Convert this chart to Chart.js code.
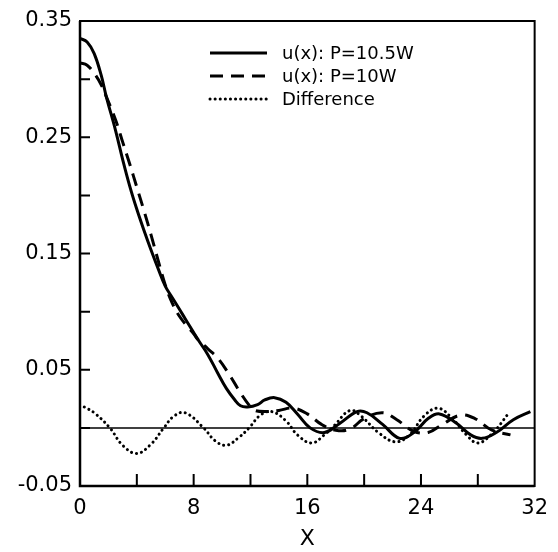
<!DOCTYPE html>
<html>
<head>
<meta charset="utf-8">
<script src="https://cdn.jsdelivr.net/npm/chart.js@4.4.0/dist/chart.umd.min.js"></script>
<style>
  html, body { margin: 0; padding: 0; background: #fff; }
  #wrap { width: 558px; height: 552px; }
</style>
</head>
<body>
<div id="wrap"><canvas id="chart"></canvas></div>
<script>
// u(x) for P = 10.5W (solid)
const solidX = [0, 0.5, 1, 1.5, 1.85, 2.5, 3, 3.5, 4, 4.5, 5, 5.5, 6, 6.5, 7, 7.5, 8, 8.3, 9, 9.7, 10.3, 10.9, 11.3, 11.8, 12.5, 13, 13.7, 14.5, 15.3, 16.2, 17.2, 18.3, 19.5, 20.2, 21.3, 22.5, 23.5, 24.5, 25.3, 26.5, 27.5, 28.3, 29.3, 30.5, 31.7];
const solidY = [0.335, 0.332, 0.322, 0.303, 0.285, 0.256, 0.231, 0.208, 0.188, 0.17, 0.153, 0.137, 0.122, 0.112, 0.102, 0.092, 0.082, 0.076, 0.063, 0.047, 0.034, 0.024, 0.019, 0.018, 0.02, 0.024, 0.026, 0.022, 0.012, 0.0, -0.004, 0.004, 0.014, 0.013, 0.003, -0.009, -0.004, 0.008, 0.012, 0.004, -0.006, -0.009, -0.004, 0.007, 0.014];

// u(x) for P = 10W (dashed)
const dashedX = [0, 0.5, 1, 1.5, 1.85, 2.5, 3, 3.5, 4, 4.5, 5, 5.5, 6, 6.5, 7, 7.5, 8, 8.3, 9, 9.7, 10.5, 11.3, 12, 12.3, 13, 14, 15, 16, 17, 18, 19, 20, 21.3, 22.3, 23.5, 24.5, 25.5, 26.8, 27.8, 29, 30.3];
const dashedY = [0.314, 0.312, 0.305, 0.295, 0.285, 0.265, 0.246, 0.227, 0.207, 0.187, 0.166, 0.144, 0.123, 0.107, 0.096, 0.088, 0.081, 0.076, 0.068, 0.06, 0.046, 0.03, 0.018, 0.015, 0.014, 0.015, 0.017, 0.012, 0.003, -0.002, -0.001, 0.008, 0.013, 0.007, -0.003, -0.004, 0.003, 0.011, 0.008, -0.002, -0.006];

// Difference (dotted)
const diffX = [0.3, 1, 2.1, 3, 4, 5, 5.9, 6.6, 7.4, 8.7, 9.5, 10.3, 11.2, 11.9, 12.7, 13.5, 14.5, 15.3, 16.3, 17.2, 17.9, 19, 19.8, 21, 22.2, 23.2, 24.2, 25.2, 26.2, 27.2, 28, 29, 30.2];
const diffY = [0.018, 0.013, 0.0, -0.015, -0.022, -0.014, 0.0, 0.01, 0.013, 0.0, -0.011, -0.015, -0.008, 0.0, 0.011, 0.014, 0.006, -0.006, -0.013, -0.006, 0.002, 0.015, 0.01, -0.004, -0.012, -0.006, 0.01, 0.017, 0.008, -0.006, -0.013, -0.005, 0.013];

const legendLabels = ["u(x): P=10.5W", "u(x): P=10W", "Difference"];
const xLabelEvery = 8;

const toPoints = (xs, ys) => xs.map((x, i) => ({ x: x, y: ys[i] }));

const black = "#000";
const fontFamily = "'DejaVu Sans', sans-serif";

const styles = [
  { borderDash: [], borderWidth: 3, borderCapStyle: "butt" },
  { borderDash: [13, 8], borderWidth: 3, borderCapStyle: "butt" },
  { borderDash: [0.1, 5], borderWidth: 3, borderCapStyle: "round" },
];

// zero line, inward ticks, frame and legend
const framePlugin = {
  id: "frame",
  beforeDatasetsDraw(chart) {
    const { ctx, chartArea: a, scales } = chart;
    const y0 = scales.y.getPixelForValue(0);
    ctx.save();
    ctx.strokeStyle = black;
    ctx.lineWidth = 1.5;
    ctx.beginPath();
    ctx.moveTo(a.left, y0);
    ctx.lineTo(a.right, y0);
    ctx.stroke();
    ctx.restore();
  },
  afterDraw(chart) {
    const { ctx, chartArea: a, scales } = chart;
    ctx.save();
    ctx.strokeStyle = black;
    ctx.lineWidth = 2;
    ctx.strokeRect(a.left, a.top, a.right - a.left, a.bottom - a.top);
    ctx.lineWidth = 2.5;
    ctx.beginPath();
    ctx.moveTo(a.left, a.top);
    ctx.lineTo(a.left, a.bottom);
    ctx.lineTo(a.right, a.bottom);
    ctx.stroke();

    // ticks pointing inward
    ctx.lineWidth = 2;
    ctx.beginPath();
    scales.y.ticks.forEach((t) => {
      const py = scales.y.getPixelForValue(t.value);
      if (py <= a.top + 1 || py >= a.bottom - 1) return;
      ctx.moveTo(a.left, py);
      ctx.lineTo(a.left + 10, py);
    });
    scales.x.ticks.forEach((t) => {
      const px = scales.x.getPixelForValue(t.value);
      if (px <= a.left + 1 || px >= a.right - 1) return;
      ctx.moveTo(px, a.bottom);
      ctx.lineTo(px, a.bottom - 12);
    });
    ctx.stroke();

    // legend
    const lx0 = 210, lx1 = 267, tx = 282;
    const rows = [53, 76, 99];
    ctx.font = "18px " + fontFamily;
    ctx.fillStyle = black;
    ctx.textBaseline = "middle";
    legendLabels.forEach((label, i) => {
      const s = styles[i];
      ctx.setLineDash(s.borderDash);
      ctx.lineWidth = s.borderWidth;
      ctx.lineCap = s.borderCapStyle;
      ctx.beginPath();
      ctx.moveTo(lx0, rows[i]);
      ctx.lineTo(lx1, rows[i]);
      ctx.stroke();
      ctx.fillText(label, tx, rows[i] + 1);
    });
    ctx.restore();
  },
};

new Chart(document.getElementById("chart"), {
  type: "line",
  data: {
    datasets: [
      { label: legendLabels[0], data: toPoints(solidX, solidY) },
      { label: legendLabels[1], data: toPoints(dashedX, dashedY) },
      { label: legendLabels[2], data: toPoints(diffX, diffY) },
    ].map((d, i) => Object.assign(d, styles[i], {
      borderColor: black,
      pointRadius: 0,
      tension: 0.4,
      fill: false,
    })),
  },
  options: {
    responsive: true,
    maintainAspectRatio: false,
    animation: false,
    layout: { padding: { top: 21, right: 17, left: 0, bottom: 0 } },
    plugins: { legend: { display: false }, tooltip: { enabled: false } },
    scales: {
      x: {
        type: "linear",
        min: 0,
        max: 32,
        afterFit: (scale) => { scale.height = 66; },
        grid: { display: false, drawTicks: false },
        border: { display: false },
        ticks: {
          stepSize: 4,
          padding: 10,
          color: black,
          font: { family: fontFamily, size: 21 },
          maxRotation: 0,
          autoSkip: false,
          callback: (v) => (v % xLabelEvery === 0 ? String(v) : ""),
        },
        title: {
          display: true,
          text: "X",
          color: black,
          font: { family: fontFamily, size: 22 },
          padding: { top: 2, bottom: 0 },
        },
      },
      y: {
        min: -0.05,
        max: 0.35,
        afterFit: (scale) => { scale.width = 80; },
        grid: { display: false, drawTicks: false },
        border: { display: false },
        ticks: {
          stepSize: 0.05,
          padding: 8,
          color: black,
          font: { family: fontFamily, size: 21 },
          autoSkip: false,
          callback: (v, i) => (i % 2 === 0 ? v.toFixed(2) : ""),
        },
      },
    },
  },
  plugins: [framePlugin],
});
</script>
</body>
</html>
